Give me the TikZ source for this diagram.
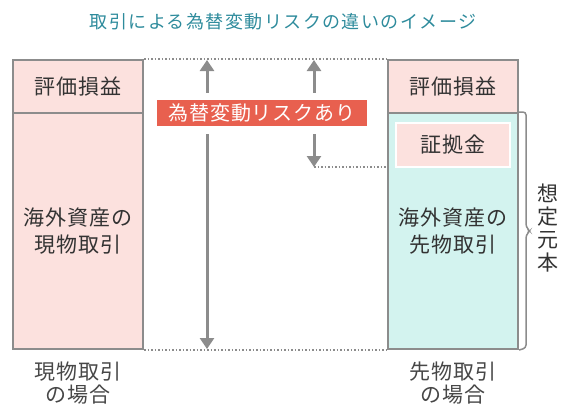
\documentclass[tikz,border=0pt]{standalone}
\usepackage{fontspec}
\setmainfont[LetterSpace=4]{Noto Sans CJK JP}
\newfontfamily\titlefont[LetterSpace=8]{Noto Sans CJK JP}
\usetikzlibrary{arrows.meta,positioning}

\definecolor{titleteal}{HTML}{2E8B9C}
\definecolor{boxgray}{HTML}{8C8C8C}
\definecolor{pinkfill}{HTML}{FCE1DE}
\definecolor{mintfill}{HTML}{D3F3EF}
\definecolor{riskred}{HTML}{E8604F}
\definecolor{textgray}{HTML}{333333}

\begin{document}
\begin{tikzpicture}[
      x=1pt, y=-1pt,
      font=\fontsize{21}{27}\selectfont,
      block/.style={draw=boxgray, line width=2pt, text=textgray, minimum width=130pt, align=center, inner sep=0pt},
      gain/.style={block, fill=pinkfill, minimum height=53pt},
      spot/.style={block, fill=pinkfill, minimum height=236pt},
      future/.style={block, fill=mintfill, minimum height=236pt},
      margin/.style={fill=pinkfill, draw=white, line width=2pt, minimum width=114pt, minimum height=44pt, text=textgray, inner sep=0pt},
      risk/.style={fill=riskred, text=white, minimum width=210pt, minimum height=26pt, inner sep=0pt, font=\fontsize{20}{24}\selectfont},
      caption/.style={text=textgray!90, align=center, font=\fontsize{21}{23.5}\selectfont},
      arrow/.style={-{Triangle[length=11pt, width=14pt]}, line width=3pt, draw=boxgray},
      guide/.style={draw=boxgray, line width=1.5pt, dotted},
      bracket/.style={draw=boxgray, line width=1.5pt, rounded corners=3pt}
    ]
    \useasboundingbox (0,0) rectangle (563,416);

    \node[text=titleteal, font=\titlefont\fontsize{18}{20}\selectfont] (title) at (283,22) {取引による為替変動リスクの違いのイメージ};

    % spot side
    \node[gain] (spotgain) at (78,86.5) {評価損益};
    \node[spot] (spotbody) at (78,231) {海外資産の\\現物取引};
    \node[caption] (spotcap) at (78,383) {現物取引\\の場合};

    % futures side
    \node[gain] (futgain) at (453,86.5) {評価損益};
    \node[future] (futbody) at (453,231) {海外資産の\\先物取引};
    \node[margin] (margin) at (453,145) {証拠金};
    \node[caption] (futcap) at (453,383) {先物取引\\の場合};

    \node[risk] (risk) at (262,113) {為替変動リスクあり};

    \coordinate (uptip1) at (207,60);
    \coordinate (downtip1) at (207,349);
    \coordinate (uptip2) at (314,60);
    \coordinate (downtip2) at (314,167);

    \draw[guide] (spotgain.north east) -- (futgain.north west);
    \draw[guide] (spotbody.south east) -- (futbody.south west);
    \draw[guide] (downtip2) -- (downtip2 -| futbody.west);

    \draw[arrow] ([yshift=7pt]risk.north -| uptip1) -- (uptip1);
    \draw[arrow] ([yshift=-8pt]risk.south -| downtip1) -- (downtip1);
    \draw[arrow] ([yshift=7pt]risk.north -| uptip2) -- (uptip2);
    \draw[arrow] ([yshift=-8pt]risk.south -| downtip2) -- (downtip2);

    % notional bracket
    \draw[bracket] (futbody.north east) -- ++(7,0) -- ++(0,115) -- ++(4,4) -- ++(-4,4) -- ++(0,113) -- (futbody.south east);
    \node[text=textgray, align=center, font=\fontsize{21}{23.3}\selectfont] (notional) at (548,228) {想\\定\\元\\本};
  \end{tikzpicture}
\end{document}
